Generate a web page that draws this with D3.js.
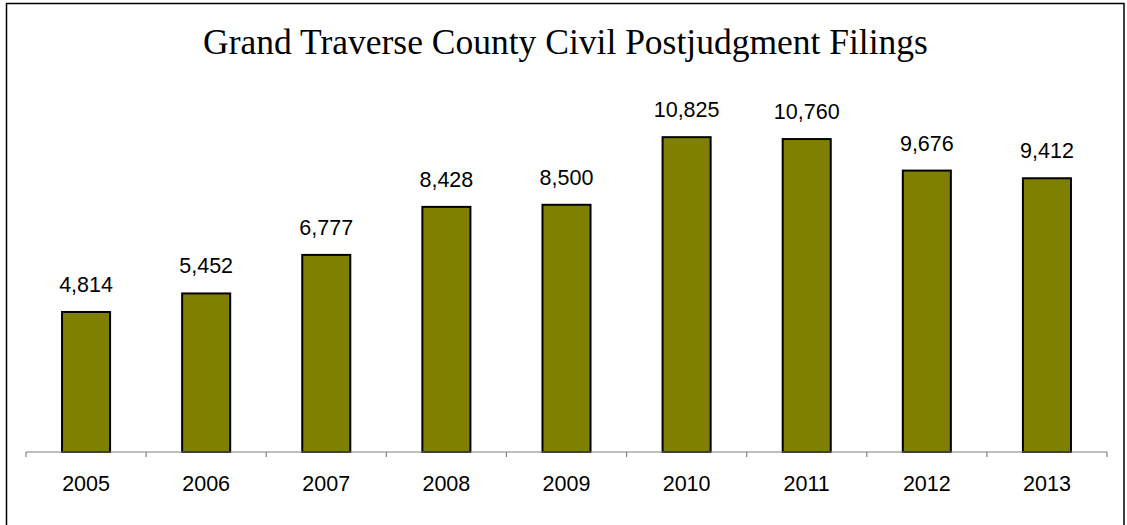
<!DOCTYPE html>
<html>
<head>
<meta charset="utf-8">
<script src="https://cdn.jsdelivr.net/npm/d3@7"></script>
<style>
    body { margin: 0; background: #fff; }
    svg { display: block; }
</style>
</head>
<body>
<script>
const years = ['2005', '2006', '2007', '2008', '2009', '2010', '2011', '2012', '2013'];
const filings = [4814, 5452, 6777, 8428, 8500, 10825, 10760, 9676, 9412];

const width = 1127;
const height = 525;
const margin = { top: 103, right: 20, bottom: 73, left: 26 };

const svg = d3.select('body').append('svg')
    .attr('width', width)
    .attr('height', height);

// outer frame, bottom edge falls off the picture
svg.append('rect')
    .attr('x', 6.5)
    .attr('y', 3.5)
    .attr('width', 1117.5)
    .attr('height', 530)
    .attr('fill', 'none')
    .attr('stroke', '#000')
    .attr('stroke-width', 1.5);

svg.append('text')
    .attr('x', 565.5)
    .attr('y', 54)
    .attr('text-anchor', 'middle')
    .attr('font-family', '"Liberation Serif", "DejaVu Serif", serif')
    .attr('font-size', 35.5)
    .attr('fill', '#000')
    .text('Grand Traverse County Civil Postjudgment Filings');

const x = d3.scaleBand()
    .domain(years)
    .range([margin.left, 1107])
    .paddingInner(0.6)
    .paddingOuter(0.3);

const y = d3.scaleLinear()
    .domain([0, 12000])
    .range([height - margin.bottom, margin.top]);

const baseY = y(0);

svg.append('g')
    .selectAll()
    .data(filings)
    .join('rect')
    .attr('x', (d, i) => x(years[i]))
    .attr('y', d => y(d))
    .attr('width', x.bandwidth())
    .attr('height', d => baseY - y(d))
    .attr('fill', '#808000')
    .attr('stroke', '#000')
    .attr('stroke-width', 2);

svg.append('g')
    .attr('font-family', '"Liberation Sans", Arial, sans-serif')
    .attr('font-size', 21.5)
    .attr('text-anchor', 'middle')
    .selectAll()
    .data(filings)
    .join('text')
    .attr('x', (d, i) => x(years[i]) + x.bandwidth() / 2)
    .attr('y', d => y(d) - 20)
    .text(d => d3.format(',')(d));

// category axis with ticks between categories
const step = (1107 - margin.left) / years.length;
const axis = svg.append('g').attr('stroke', '#808080').attr('stroke-width', 1.2);
axis.append('line')
    .attr('x1', margin.left).attr('x2', 1107)
    .attr('y1', baseY).attr('y2', baseY);
axis.selectAll('.tick')
    .data(d3.range(years.length + 1))
    .join('line')
    .attr('x1', i => margin.left + i * step)
    .attr('x2', i => margin.left + i * step)
    .attr('y1', baseY)
    .attr('y2', baseY + 5);

svg.append('g')
    .attr('font-family', '"Liberation Sans", Arial, sans-serif')
    .attr('font-size', 21.5)
    .attr('text-anchor', 'middle')
    .selectAll()
    .data(years)
    .join('text')
    .attr('x', d => x(d) + x.bandwidth() / 2)
    .attr('y', baseY + 39)
    .text(d => d);
</script>
</body>
</html>
